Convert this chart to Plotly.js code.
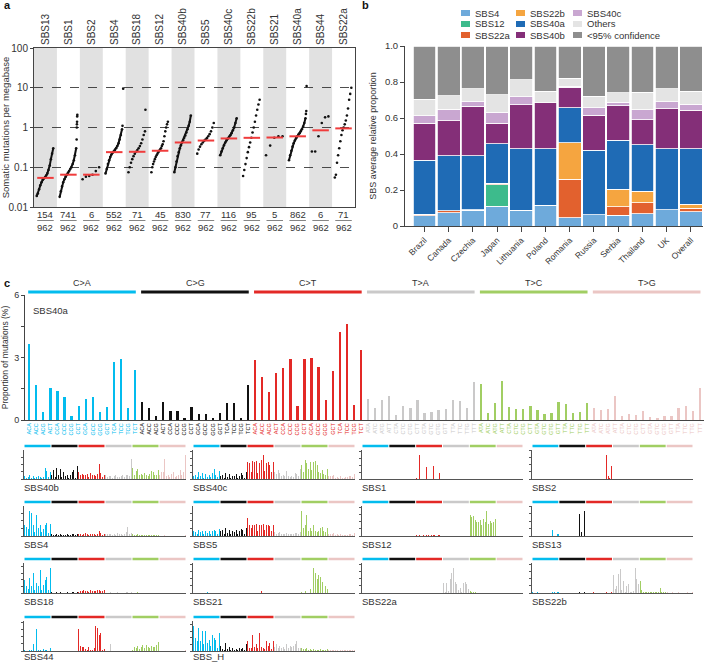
<!DOCTYPE html>
<html>
<head>
<meta charset="utf-8">
<script src="https://cdn.plot.ly/plotly-3.0.1.min.js"></script>
<style>body{margin:0;background:#fff}#chart{width:706px;height:663px}</style>
</head>
<body>
<div id="chart"></div>
<script>
const W = 706, H = 663;

// ---- panel a: somatic mutations per megabase
let sigA = ["SBS13","SBS1","SBS2","SBS4","SBS18","SBS12","SBS40b","SBS5","SBS40c","SBS22b","SBS21","SBS40a","SBS44","SBS22a"];
let nA = [154,741,6,552,71,45,830,77,116,95,5,862,6,71];
let totalA = 962;
let medA = [0.054,0.065,0.065,0.24,0.245,0.26,0.42,0.47,0.53,0.55,0.56,0.6,0.85,0.95];
let curveA = [
  [0.019,0.022,0.028,0.035,0.042,0.048,0.052,0.056,0.062,0.07,0.085,0.11,0.16,0.22,0.3],
  [0.018,0.025,0.033,0.042,0.05,0.058,0.065,0.072,0.08,0.09,0.1,0.12,0.15,0.2,0.3],
  [0.05,0.058,0.06,0.065,0.08,0.1],
  [0.07,0.09,0.12,0.15,0.18,0.21,0.23,0.25,0.27,0.3,0.34,0.4,0.5,0.65,0.9],
  [0.075,0.1,0.13,0.16,0.19,0.22,0.245,0.27,0.3,0.34,0.4,0.5,0.65,0.8],
  [0.075,0.1,0.12,0.14,0.16,0.18,0.2,0.22,0.24,0.26,0.28,0.3,0.34,0.38,0.45,0.6,0.8,1.0,1.2,1.4],
  [0.075,0.1,0.14,0.19,0.24,0.3,0.36,0.42,0.48,0.55,0.63,0.75,0.9,1.1,1.4,2.0],
  [0.22,0.28,0.33,0.38,0.42,0.46,0.5,0.54,0.6,0.68,0.8,1.0,1.3],
  [0.2,0.25,0.3,0.36,0.42,0.48,0.53,0.58,0.64,0.72,0.85,1.0,1.3,1.7],
  [0.06,0.085,0.12,0.17,0.24,0.32,0.42,0.55,0.75,1.0,1.4,2.0,2.8,3.8,5.0],
  [0.2,0.35,0.55,0.6,0.6],
  [0.15,0.2,0.26,0.33,0.4,0.47,0.54,0.6,0.66,0.72,0.8,0.9,1.05,1.3,1.7],
  [0.25,0.25,0.6,1.3,1.8,1.9],
  [0.055,0.065,0.13,0.2,0.3,0.45,0.65,0.85,1.0,1.2,1.5,2.0,3.0,5.0,7.0,10.0]
];
let tailA = [[],[0.5,1.0,1.2,1.4,1.9,2.1],[],[1.1,9.5],[2.8],[],[],[],[],[],[],[2.2,2.6,11],[],[]];

// ---- panel b: average relative proportion by country
let countries = ["Brazil","Canada","Czechia","Japan","Lithuania","Poland","Romania","Russia","Serbia","Thailand","UK","Overall"];
let b_SBS4   = [0.056,0.074,0.087,0.111,0.087,0.115,0.046,0.063,0.059,0.069,0.091,0.078];
let b_SBS12  = [0,0,0,0.119,0,0,0,0,0,0,0,0];
let b_SBS22a = [0.010,0.010,0.004,0.008,0,0,0.213,0,0.047,0.061,0,0.022];
let b_SBS22b = [0,0,0,0,0,0,0.204,0,0.098,0.063,0,0.022];
let b_SBS40a = [0.300,0.306,0.298,0.219,0.343,0.315,0.194,0.357,0.272,0.259,0.339,0.308];
let b_SBS40b = [0.206,0.194,0.276,0.115,0.244,0.255,0.115,0.195,0.193,0.139,0.222,0.213];
let b_SBS40c = [0.041,0.065,0.024,0.061,0.043,0,0.004,0.041,0.018,0.055,0.037,0.033];
let b_Others = [0.090,0.074,0.074,0.097,0.096,0.063,0.046,0.064,0.052,0.098,0.074,0.072];
let b_conf   = [0.297,0.277,0.237,0.270,0.187,0.252,0.178,0.280,0.261,0.256,0.237,0.252];
let bNames  = ["SBS4","SBS12","SBS22a","SBS22b","SBS40a","SBS40b","SBS40c","Others","<95% confidence"];
let bSeries = [b_SBS4,b_SBS12,b_SBS22a,b_SBS22b,b_SBS40a,b_SBS40b,b_SBS40c,b_Others,b_conf];
let bColors = ["#6eaadb","#3dbb8c","#e2612e","#f5a540","#1f6bb5","#842f78","#c9a7d1","#e4e4e4","#8e8e8e"];

// ---- panel c: 96-channel profiles
let groups = ["C>A","C>G","C>T","T>A","T>C","T>G"];
let groupColors = ["#03BCEE","#111111","#E32926","#CAC9C9","#A1CE63","#EBC6C4"];
let ctxC = ["ACA","ACC","ACG","ACT","CCA","CCC","CCG","CCT","GCA","GCC","GCG","GCT","TCA","TCC","TCG","TCT"];
let ctxT = ["ATA","ATC","ATG","ATT","CTA","CTC","CTG","CTT","GTA","GTC","GTG","GTT","TTA","TTC","TTG","TTT"];

let sbs40a = [
  3.65,1.68,0.37,1.55,1.39,1.09,0.18,0.67,1.02,1.10,0.37,0.64,2.77,2.94,0.56,2.40,
  0.85,0.59,0.18,0.85,0.42,0.45,0.10,0.64,0.27,0.30,0.10,0.32,0.83,0.80,0.09,1.66,
  2.88,2.06,1.33,2.26,2.50,2.93,0.67,2.91,2.99,2.54,0.94,2.34,4.24,4.61,0.72,3.38,
  1.02,0.58,0.96,1.14,0.26,0.67,0.59,0.96,0.32,0.38,0.46,0.53,0.96,0.93,0.59,1.84,
  1.71,0.32,0.83,1.87,0.62,0.51,0.54,0.69,0.48,0.29,0.35,0.85,0.75,0.32,0.38,0.80,
  0.56,0.48,0.53,1.17,0.18,0.29,0.24,0.43,0.13,0.11,0.19,0.21,0.59,0.66,0.43,1.52
];

let sbs40b = [
  8,3,6,10,4,8,3,6,9,5,3,6,30,22,5,18,
  12,25,6,30,10,28,5,18,8,12,3,10,20,25,4,35,
  18,12,15,10,12,14,6,16,10,12,8,14,40,16,6,12,
  10,6,8,8,4,8,10,6,6,8,10,6,12,10,8,55,
  30,10,22,26,12,14,10,16,12,8,14,22,18,10,12,25,
  12,18,20,55,8,12,6,14,20,6,8,10,25,12,18,65
];
let sbs40c = [
  8,12,5,20,10,18,4,14,6,12,5,16,28,12,5,22,
  8,12,4,18,6,14,4,10,8,14,4,10,16,12,4,20,
  50,45,20,52,48,52,18,45,55,68,22,45,50,40,20,48,
  20,14,25,18,10,12,8,22,8,6,10,6,18,14,10,30,
  40,20,55,45,30,50,25,48,52,40,20,18,25,15,12,28,
  10,8,8,12,4,6,4,8,4,4,6,6,10,8,6,14
];
let sbs1 = [
  0,0,0,0,0,0,0,0,0,0,0,0,0,0,0,0,
  0,0,0,0,0,0,0,0,0,0,0,0,0,0,0,0,
  4,0,68,1,0,0,35,0,0,0,38,0,0,0,18,0,
  0,0,0,0,0,0,0,0,0,0,0,0,0,0,0,0,
  0,0,0,0,0,0,0,0,0,0,0,0,0,0,0,0,
  0,0,0,0,0,0,0,0,0,0,0,0,0,0,0,0
];
let sbs2 = [
  0,0,0,0,0,0,0,0,0,0,0,0,0,0,0,0,
  0,0,0,0,0,0,0,0,0,0,0,0,0,0,0,0,
  0,0,0,0,0,0,0,0,0,0,0,0,66,8,4,36,
  0,0,0,0,0,0,0,0,0,0,0,0,0,0,0,0,
  0,0,0,0,0,0,0,0,0,0,0,0,0,0,0,0,
  0,0,0,0,0,0,0,0,0,0,0,0,0,0,0,0
];
let sbs4 = [
  30,25,18,65,62,30,10,55,22,28,10,18,30,35,8,32,
  4,3,2,4,3,4,2,3,3,4,2,3,4,4,2,4,
  6,4,3,6,8,5,3,6,4,5,3,5,12,8,3,6,
  6,4,5,6,3,4,3,8,4,4,3,5,10,25,6,8,
  4,2,3,4,2,3,2,3,2,2,2,3,3,2,2,3,
  1,1,1,2,1,1,1,1,1,1,1,1,1,1,1,2
];
let sbs5 = [
  14,10,6,16,10,14,4,12,8,12,4,14,16,14,4,18,
  12,15,5,20,8,16,4,14,10,16,4,12,18,16,4,22,
  48,28,20,30,28,32,14,30,28,32,16,28,30,26,14,30,
  10,6,8,10,4,6,4,8,4,4,4,6,8,8,4,10,
  65,20,30,55,14,22,12,28,12,10,12,20,24,14,10,22,
  6,4,5,8,2,4,2,4,3,2,3,3,6,4,3,8
];
let sbs12 = [
  1,0,0,1,0,0,0,0,0,1,0,0,0,0,0,1,
  0,0,0,1,0,0,0,0,0,0,0,0,0,1,0,0,
  2,1,3,1,2,1,3,2,1,2,3,2,1,4,2,1,
  1,0,1,0,0,0,1,0,0,0,1,0,0,0,0,1,
  57,52,55,45,40,38,45,30,48,40,68,32,42,35,40,48,
  0,0,0,0,0,0,0,0,0,0,0,0,0,0,0,0
];
let sbs13 = [
  0,0,0,0,0,0,0,0,0,0,0,0,15,0,0,6,
  0,0,0,0,0,0,0,0,0,0,0,0,59,10,0,67,
  0,0,0,0,0,0,0,0,0,0,0,0,0,0,0,0,
  0,0,0,0,0,0,0,0,0,0,0,0,0,0,0,0,
  0,0,0,0,0,0,0,0,0,0,0,0,0,0,0,0,
  0,0,0,0,0,0,0,0,0,0,0,0,0,0,0,0
];
let sbs18 = [
  40,20,12,45,20,60,10,30,20,70,8,24,40,48,10,75,
  2,1,1,2,1,2,1,1,1,2,1,1,2,2,1,2,
  4,6,5,8,6,7,4,8,6,7,5,8,8,7,5,9,
  1,1,1,2,1,1,1,2,1,1,1,1,2,2,1,2,
  1,1,1,2,1,1,1,1,1,1,1,1,1,1,1,1,
  0,0,0,1,0,0,0,0,0,0,0,0,0,0,0,1
];
let sbs21 = [
  0,0,0,0,0,0,0,0,4,0,0,0,0,0,0,0,
  0,0,0,0,0,0,0,0,0,0,0,0,0,0,0,0,
  0,0,0,0,0,0,0,0,6,0,0,0,0,0,0,0,
  0,0,0,0,0,0,0,0,0,0,0,0,0,0,0,0,
  3,0,5,0,0,10,0,68,55,40,50,45,30,0,20,10,
  0,0,0,0,0,0,0,0,0,0,0,0,0,0,0,0
];
let sbs22a = [
  0,0,0,0,0,0,0,0,0,0,0,0,0,0,0,0,
  0,0,0,0,0,0,0,0,0,0,0,0,0,0,0,0,
  0,0,0,0,0,0,0,0,0,0,0,0,0,0,0,0,
  28,4,28,6,40,55,68,30,25,8,15,4,28,30,25,12,
  6,3,4,2,1,1,1,1,0,0,0,0,0,0,0,0,
  0,0,0,0,0,0,0,0,0,0,0,0,0,0,0,0
];
let sbs22b = [
  2,1,1,2,1,1,0,1,1,1,0,1,4,2,1,3,
  1,0,0,1,0,0,0,1,0,0,0,0,2,1,0,3,
  1,1,0,1,2,1,0,1,1,1,0,1,3,1,0,2,
  50,10,20,55,68,8,35,4,20,25,4,2,6,70,40,25,
  35,8,4,3,2,4,2,3,4,2,2,2,15,4,2,3,
  2,1,1,3,1,1,1,2,1,1,1,1,2,1,1,4
];
let sbs44 = [
  2,1,0,2,3,20,1,62,2,2,0,6,2,2,0,8,
  1,0,0,1,0,0,0,0,0,0,0,0,0,0,0,1,
  64,15,10,12,6,4,10,2,3,8,70,66,46,52,4,6,
  1,1,1,20,1,1,1,1,1,1,1,1,1,1,1,1,
  4,12,8,14,6,10,16,8,18,12,8,14,10,12,16,25,
  1,1,1,1,0,0,0,1,0,0,0,0,1,1,1,2
];
let sbsH = [
  75,40,30,70,30,60,20,60,25,35,15,50,40,35,10,55,
  15,5,4,25,6,12,3,10,4,6,2,8,6,10,4,20,
  30,10,8,50,12,20,8,55,12,10,6,30,15,25,6,30,
  12,20,10,15,8,12,6,22,10,14,12,16,20,30,8,10,
  8,6,5,8,4,5,3,6,4,3,3,5,4,3,3,6,
  3,2,2,4,2,2,1,3,2,2,2,3,3,2,2,4
];
let smallNames = ["SBS40b","SBS40c","SBS1","SBS2","SBS4","SBS5","SBS12","SBS13","SBS18","SBS21","SBS22a","SBS22b","SBS44","SBS_H"];
let smallData  = [sbs40b,sbs40c,sbs1,sbs2,sbs4,sbs5,sbs12,sbs13,sbs18,sbs21,sbs22a,sbs22b,sbs44,sbsH];

// helpers: pixel -> paper
const px = v => v / W;
const py = v => 1 - v / H;

let data = [];
let shapes = [];
let annotations = [];
let layout = {
  width: W, height: H,
  margin: {l: 0, r: 0, t: 0, b: 0},
  showlegend: false,
  barmode: "stack",
  paper_bgcolor: "#fff",
  plot_bgcolor: "rgba(0,0,0,0)",
  font: {family: "Liberation Sans, Arial, sans-serif", size: 10, color: "#333"}
};

// ===== panel a =====
sigA.forEach((s, i) => {
  let vals = curveA[i];
  let m = vals.length;
  let xs = vals.map((v, k) => i - 0.38 + 0.72 * k / (m - 1));
  data.push({
    type: "scatter", mode: nA[i] >= 100 ? "lines+markers" : "markers",
    x: xs, y: vals, xaxis: "x", yaxis: "y",
    line: {color: "#111", width: 2}, marker: {color: "#111", size: 2.6}
  });
  let tail = tailA[i];
  if (tail.length) {
    data.push({
      type: "scatter", mode: "markers",
      x: tail.map((v, k) => i + 0.36 + 0.03 * k / Math.max(1, tail.length - 1)), y: tail,
      xaxis: "x", yaxis: "y", marker: {color: "#111", size: 2.6}
    });
  }
  if (i % 2 === 0) {
    shapes.push({type: "rect", xref: "x", yref: "y domain", x0: i - 0.5, x1: i + 0.5, y0: 0, y1: 1,
      fillcolor: "#e1e1e1", line: {width: 0}, layer: "below"});
  }
  annotations.push({xref: "x", yref: "paper", x: i, y: py(214.5), yanchor: "middle", text: String(nA[i]),
    showarrow: false, borderpad: 0, font: {size: 9.5, color: "#333"}});
  annotations.push({xref: "x", yref: "paper", x: i, y: py(227), yanchor: "middle", text: String(totalA),
    showarrow: false, borderpad: 0, font: {size: 9.5, color: "#333"}});
  shapes.push({type: "line", xref: "x", yref: "paper", x0: i - 0.36, x1: i + 0.36, y0: py(220.5), y1: py(220.5),
    line: {color: "#666", width: 0.8}});
});
// medians
let mx = [], my = [];
medA.forEach((m, i) => { mx.push(i - 0.36, i + 0.36, null); my.push(m, m, null); });
data.push({type: "scatter", mode: "lines", x: mx, y: my, xaxis: "x", yaxis: "y",
  line: {color: "#f03c3c", width: 2}});

layout.xaxis = {
  domain: [px(34), px(355)], range: [-0.5, 13.5], anchor: "y", side: "top",
  tickmode: "array", tickvals: sigA.map((s, i) => i), ticktext: sigA, tickangle: -90,
  ticks: "", showline: true, mirror: true, linecolor: "#444", linewidth: 1,
  showgrid: false, zeroline: false, tickfont: {size: 10, color: "#333"}
};
layout.yaxis = {
  domain: [py(207), py(48)], type: "log", range: [-2, 2], anchor: "x",
  tickmode: "array", tickvals: [0.01, 0.1, 1, 10, 100], ticktext: ["0.01", "0.1", "1", "10", "100"],
  ticks: "outside", ticklen: 3, tickcolor: "#444", showline: true, mirror: true, linecolor: "#444",
  showgrid: true, gridcolor: "#222", griddash: "dash", gridwidth: 0.8, zeroline: false,
  tickfont: {size: 10, color: "#333"},
  title: {text: "Somatic mutations per megabase", font: {size: 9.5, color: "#333"}, standoff: 4}
};

// ===== panel b =====
bSeries.forEach((vals, k) => {
  data.push({
    type: "bar", x: countries, y: vals, name: bNames[k], xaxis: "x2", yaxis: "y2",
    width: 0.94, marker: {color: bColors[k], line: {color: "#fff", width: 0.8}}
  });
});
layout.xaxis2 = {
  domain: [px(405), px(703)], range: [-0.8, 11.5], anchor: "y2", type: "category",
  tickangle: -45, ticks: "outside", ticklen: 5, tickcolor: "#444", showline: true, linecolor: "#444",
  showgrid: false, zeroline: false, tickfont: {size: 8.5, color: "#333"}
};
layout.yaxis2 = {
  domain: [py(226), py(46)], range: [0, 1.0], anchor: "x2",
  tickmode: "array", tickvals: [0, 0.2, 0.4, 0.6, 0.8, 1.0], ticktext: ["0", "0.2", "0.4", "0.6", "0.8", "1.0"],
  ticks: "outside", ticklen: 4, tickcolor: "#444", showline: true, linecolor: "#444",
  showgrid: false, zeroline: false, tickfont: {size: 9.5, color: "#333"},
  title: {text: "SBS average relative proportion", font: {size: 9, color: "#333"}, standoff: 6}
};
// manual legend in three columns
let legX = [461, 516, 573], legY = [13, 24, 35];
bNames.forEach((n, k) => {
  let c = Math.floor(k / 3), r = k % 3;
  shapes.push({type: "rect", xref: "paper", yref: "paper",
    x0: px(legX[c]), x1: px(legX[c] + 9), y0: py(legY[r] + 3), y1: py(legY[r] - 3),
    fillcolor: bColors[k], line: {width: 0}});
  annotations.push({xref: "paper", yref: "paper", x: px(legX[c] + 12), y: py(legY[r]),
    xanchor: "left", yanchor: "middle", text: n.replace("<", "&lt;"), showarrow: false,
    font: {size: 9.5, color: "#333"}});
});

// ===== panel c main =====
let ctx96 = [];
groups.forEach((g, gi) => { (gi < 3 ? ctxC : ctxT).forEach(c => ctx96.push(c)); });
let idx96 = ctx96.map((c, i) => i);
let colors96 = ctx96.map((c, i) => groupColors[Math.floor(i / 16)]);
let tick96 = ctx96.map((c, i) => '<span style="color:' + groupColors[Math.floor(i / 16)] + '">' + c + '</span>');

data.push({type: "bar", x: idx96, y: sbs40a, xaxis: "x3", yaxis: "y3", width: 0.32,
  marker: {color: colors96}});
layout.xaxis3 = {
  domain: [px(25), px(704)], range: [-0.6, 95.6], anchor: "y3",
  tickmode: "array", tickvals: idx96, ticktext: tick96, tickangle: -90,
  ticks: "", showline: true, linecolor: "#444", showgrid: false, zeroline: false,
  tickfont: {size: 5.5, color: "#999"}
};
layout.yaxis3 = {
  domain: [py(420), py(295)], range: [0, 6], anchor: "x3",
  tickmode: "array", tickvals: [0, 1.5, 3, 4.5, 6], ticktext: ["0", "", "3", "", "6"],
  ticks: "outside", ticklen: 3, tickcolor: "#444", showline: true, linecolor: "#444",
  showgrid: false, zeroline: false, tickfont: {size: 9, color: "#333"},
  title: {text: "Proportion of mutations (%)", font: {size: 8.5, color: "#333"}, standoff: 4}
};
groups.forEach((g, gi) => {
  shapes.push({type: "line", xref: "x3", yref: "paper", x0: gi * 16 - 0.15, x1: gi * 16 + 15.1,
    y0: py(292), y1: py(292), line: {color: groupColors[gi], width: 3}});
  annotations.push({xref: "x3", yref: "paper", x: gi * 16 + 7.5, y: py(283), yanchor: "middle",
    text: g.replace(">", "&gt;"), showarrow: false, font: {size: 9, color: "#333"}});
});
annotations.push({xref: "paper", yref: "paper", x: px(31), y: py(310), xanchor: "left", yanchor: "middle",
  text: "SBS40a", showarrow: false, font: {size: 9.5, color: "#333"}});

// ===== small panels =====
let colX = [[24, 186], [193, 355], [362, 523], [532, 693]];
let rowY = [[450, 479], [506, 536], [563, 593], [621, 651]];
smallNames.forEach((name, k) => {
  let n = k + 4;
  let c = k % 4, r = Math.floor(k / 4);
  let vals = smallData[k];
  let ymax = Math.max(...vals);
  data.push({type: "bar", x: idx96, y: vals, xaxis: "x" + n, yaxis: "y" + n, width: 0.6,
    marker: {color: colors96}});
  layout["xaxis" + n] = {
    domain: [px(colX[c][0]), px(colX[c][1])], range: [-0.5, 95.5], anchor: "y" + n,
    showticklabels: false, ticks: "", showline: true, linecolor: "#555", linewidth: 1,
    showgrid: false, zeroline: false
  };
  layout["yaxis" + n] = {
    domain: [py(rowY[r][1]), py(rowY[r][0])], range: [0, ymax / 0.82], anchor: "x" + n,
    showticklabels: false, ticks: "outside", ticklen: 2, tickcolor: "#555", nticks: 5,
    showline: true, linecolor: "#555", linewidth: 1, showgrid: false, zeroline: false
  };
  groups.forEach((g, gi) => {
    shapes.push({type: "line", xref: "x" + n, yref: "paper", x0: gi * 16 - 0.2, x1: gi * 16 + 15.2,
      y0: py(rowY[r][0] - 4), y1: py(rowY[r][0] - 4), line: {color: groupColors[gi], width: 2.5}});
  });
  annotations.push({xref: "paper", yref: "paper", x: px(colX[c][0] - 1), y: py(Math.min(rowY[r][1] + 8.5, 656)),
    xanchor: "left", yanchor: "middle", text: name, showarrow: false, borderpad: 0,
    font: {size: 9.5, color: "#333"}});
});

// panel letters
[["a", 2, 5], ["b", 360, 5], ["c", 2, 283]].forEach(p => {
  annotations.push({xref: "paper", yref: "paper", x: px(p[1]), y: py(p[2]), xanchor: "left", yanchor: "middle",
    text: "<b>" + p[0] + "</b>", showarrow: false, font: {size: 11, color: "#111"}});
});

layout.shapes = shapes;
layout.annotations = annotations;

Plotly.newPlot("chart", data, layout, {staticPlot: true});
</script>
</body>
</html>
